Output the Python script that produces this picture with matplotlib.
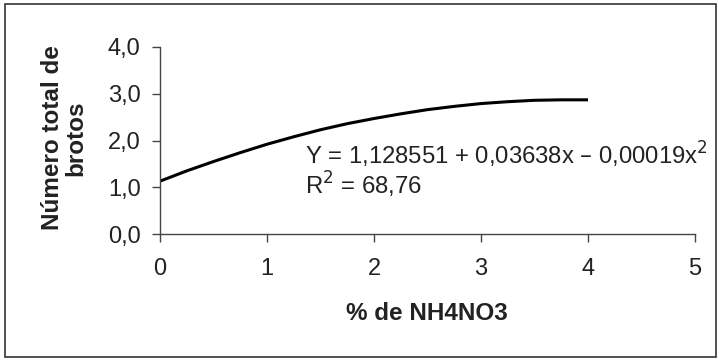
import matplotlib
matplotlib.use("Agg")
import matplotlib.pyplot as plt
from matplotlib.patches import Rectangle

plt.rcParams['font.family'] = ['Liberation Sans', 'DejaVu Sans']

# Data
nh4no3 = [0, 0.25, 0.5, 0.75, 1.0, 1.25, 1.5, 1.75, 2.0, 2.25, 2.5, 2.75, 3.0, 3.25, 3.5, 3.75, 4.0]
brotos = [1.13, 1.35, 1.55, 1.74, 1.92, 2.08, 2.23, 2.36, 2.47, 2.57, 2.66, 2.73, 2.79, 2.83, 2.86, 2.87, 2.87]
x_ticks = [0, 1, 2, 3, 4, 5]
y_ticks = [0.0, 1.0, 2.0, 3.0, 4.0]
y_ticklabels = ["0,0", "1,0", "2,0", "3,0", "4,0"]
equation = "Y = 1,128551 + 0,03638x – 0,00019x$^2$"
r2_text = "R$^2$ = 68,76"

W, H = 719, 361
fig = plt.figure(figsize=(W / 100, H / 100), dpi=100)
fig.patch.set_facecolor("white")
fig.patches.append(Rectangle((5 / W, 1 - 357 / H), 711 / W, 353 / H,
                             transform=fig.transFigure, fill=False,
                             edgecolor="#333333", linewidth=1.2))

ax = fig.add_axes([160 / W, 1 - 234 / H, 535 / W, 187 / H])
ax.plot(nh4no3, brotos, color="black", linewidth=2.2, solid_capstyle="butt")

ax.set_xlim(0, 5)
ax.set_ylim(0, 4)
ax.set_xticks(x_ticks)
ax.set_xticklabels([str(v) for v in x_ticks])
ax.set_yticks(y_ticks)
ax.set_yticklabels(y_ticklabels)
for s in ["top", "right"]:
    ax.spines[s].set_visible(False)
for s in ["left", "bottom"]:
    ax.spines[s].set_color("#444444")
    ax.spines[s].set_linewidth(1.0)
ax.tick_params(axis="both", direction="out", length=6, width=1, color="#444444",
               labelsize=17, labelcolor="#222222")
ax.tick_params(axis="x", pad=11)
ax.tick_params(axis="y", pad=8)

fig.text(427 / W, 1 - 313 / H, "% de NH4NO3", ha="center", va="center",
         fontsize=17.5, fontweight="bold", color="#222222")
fig.text(64 / W, 1 - 138 / H, "Número total de\nbrotos", rotation=90,
         ha="center", va="center", fontsize=17.5, fontweight="bold",
         color="#222222", multialignment="center", linespacing=1.05)

fig.text(305 / W, 1 - 170 / H, equation + "\n" + r2_text, fontsize=17.2,
         color="#222222", va="center", ha="left", linespacing=1.0)

fig.savefig("out.png", dpi=100)
